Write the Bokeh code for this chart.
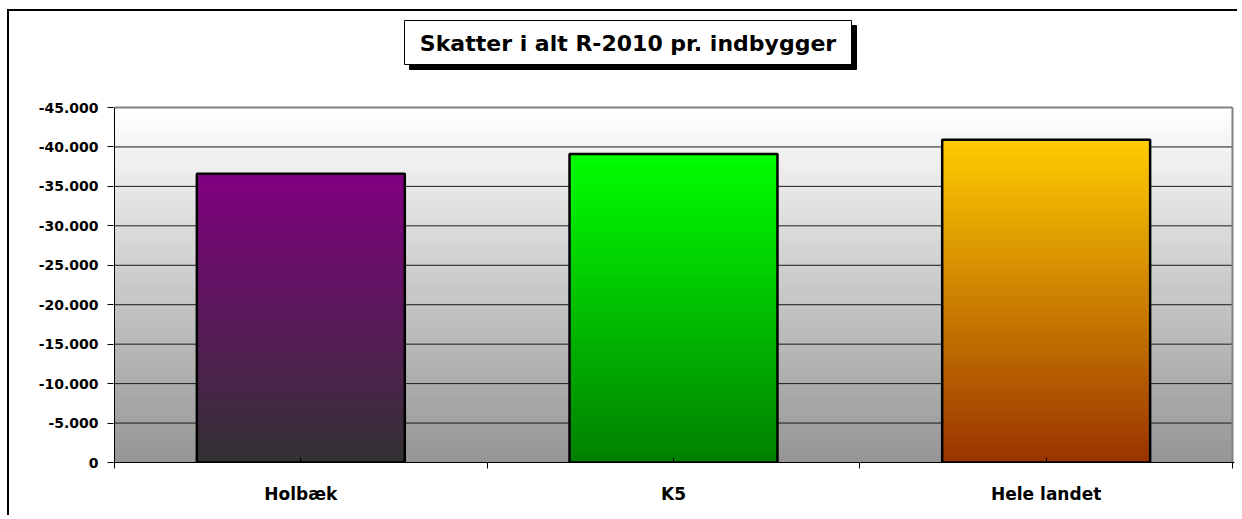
import numpy as np
from bokeh.plotting import figure
from bokeh.models import Range1d, FixedTicker, CustomJSTickFormatter, Label
from bokeh.embed import file_html
from bokeh.resources import INLINE

# ---- data ----
categories = ["Holbæk", "K5", "Hele landet"]
values = [-36600, -39100, -40900]
top_colors = ["#800080", "#00ff00", "#ffcc00"]
bottom_colors = ["#333333", "#008000", "#993300"]
y_ticks = [0, -5000, -10000, -15000, -20000, -25000, -30000, -35000, -40000, -45000]
title_text = "Skatter i alt R-2010 pr. indbygger"


def hex2rgb(h):
    h = h.lstrip("#")
    return np.array([int(h[i:i + 2], 16) for i in (0, 2, 4)], dtype=float)


def mix(c_bottom, c_top, f):
    a, b = hex2rgb(c_bottom), hex2rgb(c_top)
    c = a + (b - a) * f
    return "#%02x%02x%02x" % tuple(int(round(v)) for v in c)


n_cat = len(categories)
ymin, ymax = 0, y_ticks[-1]

# ---- layout (pixels) ----
W, H = 1233, 506
ML, MR, MB = 104, 8, 55
FRAME_W = W - ML - MR          # 1121
FRAME_H = H - MB               # 451
PLOT_W = FRAME_W - 3           # 1118 px for the 3 categories
PLOT_H = 355.0                 # px from 0 to -45000
upx = n_cat / PLOT_W           # x units per px
x_start = -1 * upx
x_end = n_cat + 2 * upx
y_end = ymax * FRAME_H / PLOT_H


def cx(px):  # px from frame left -> data x
    return x_start + px * upx


def cy(py):  # px from frame top -> data y
    return y_end * (FRAME_H - py) / FRAME_H


p = figure(width=W, height=H, output_backend="svg", toolbar_location=None,
           x_range=Range1d(x_start, x_end), y_range=Range1d(ymin, y_end),
           min_border_left=ML, min_border_right=MR, min_border_top=0, min_border_bottom=MB)
# outer chart frame (left and top edges visible in the window)
p.styles = {"margin-left": "9px", "margin-top": "11px",
            "box-shadow": "-2px -2px 0px 0px black",
            "clip-path": "polygon(-4px -4px, calc(100% - 5px) -4px, calc(100% - 5px) calc(100% + 4px), -4px calc(100% + 4px))"}
p.background_fill_color = "white"
p.border_fill_color = "white"
p.outline_line_color = None
p.xgrid.visible = False
p.ygrid.visible = False

# plot-area background gradient
nb = 90
edges = np.linspace(ymin, ymax, nb + 1)
bg_cols = [mix("#959595", "#ffffff", (i + 0.5) / nb) for i in range(nb)]
p.quad(left=0, right=n_cat, bottom=edges[:-1], top=edges[1:],
       fill_color=bg_cols, line_color=bg_cols, line_width=1)

# grid lines
p.segment(x0=0, x1=n_cat, y0=y_ticks[1:-1], y1=y_ticks[1:-1], line_color="#1a1a1a", line_width=1)
# plot-area border (top, right gray; left black)
p.segment(x0=[0, n_cat], x1=[n_cat, n_cat], y0=[ymax, ymax], y1=[ymax, ymin],
          line_color="#808080", line_width=2)
p.segment(x0=0, x1=0, y0=ymin, y1=ymax, line_color="black", line_width=1)

# bars with vertical gradient
bw = 0.558
ns = 80
for i, v in enumerate(values):
    e = np.linspace(0, v, ns + 1)
    cols = [mix(bottom_colors[i], top_colors[i], (k + 0.5) / ns) for k in range(ns)]
    p.quad(left=i + 0.5 - bw / 2, right=i + 0.5 + bw / 2, bottom=e[:-1], top=e[1:],
           fill_color=cols, line_color=cols, line_width=1)
p.quad(left=[i + 0.5 - bw / 2 for i in range(n_cat)], right=[i + 0.5 + bw / 2 for i in range(n_cat)],
       bottom=0, top=values, fill_color=None, line_color="black", line_width=2.5)

# title box with shadow (inside the frame, above the plot area)
bx0, bx1, by0, by1 = 395 - ML, 842 - ML, 9, 53
p.quad(left=cx(bx0 + 5), right=cx(bx1 + 5), top=cy(by0 + 5), bottom=cy(by1 + 5),
       fill_color="black", line_color="black", line_width=1)
p.quad(left=cx(bx0), right=cx(bx1), top=cy(by0), bottom=cy(by1),
       fill_color="white", line_color="black", line_width=1)
p.add_layout(Label(x=cx((bx0 + bx1) / 2), y=cy((by0 + by1) / 2 + 1), text=title_text,
                   text_align="center", text_baseline="middle",
                   text_font="DejaVu Sans", text_font_style="bold", text_font_size="22px",
                   text_color="black"))

# x axis
xa = p.xaxis[0]
xa.ticker = FixedTicker(ticks=[i + 0.5 for i in range(n_cat)], minor_ticks=list(range(n_cat + 1)))
xa.formatter = CustomJSTickFormatter(args=dict(names=categories),
                                     code="var k = Math.floor(tick); return names[k] || '';")
xa.major_tick_in = 5
xa.major_tick_out = 0
xa.minor_tick_in = 0
xa.minor_tick_out = 6
xa.major_tick_line_color = "black"
xa.minor_tick_line_color = "black"
xa.axis_line_color = "black"
xa.axis_line_width = 1
xa.major_label_standoff = 15
xa.major_label_text_font = "DejaVu Sans"
xa.major_label_text_font_style = "bold"
xa.major_label_text_font_size = "17px"
xa.major_label_text_color = "black"

# y axis
ya = p.yaxis[0]
ya.ticker = FixedTicker(ticks=y_ticks, minor_ticks=[])
ya.formatter = CustomJSTickFormatter(code="""
var s = Math.abs(Math.round(tick)).toString().replace(/\\B(?=(\\d{3})+(?!\\d))/g, '.');
return (tick < 0 ? '-' : '') + s;
""")
ya.axis_line_color = None
ya.major_tick_in = 0
ya.major_tick_out = 6
ya.minor_tick_in = 0
ya.minor_tick_out = 0
ya.major_tick_line_color = "black"
ya.major_label_standoff = 9
ya.major_label_text_font = "DejaVu Sans"
ya.major_label_text_font_style = "bold"
ya.major_label_text_font_size = "14px"
ya.major_label_text_color = "black"

open("out.html", "w").write(file_html(p, INLINE))
